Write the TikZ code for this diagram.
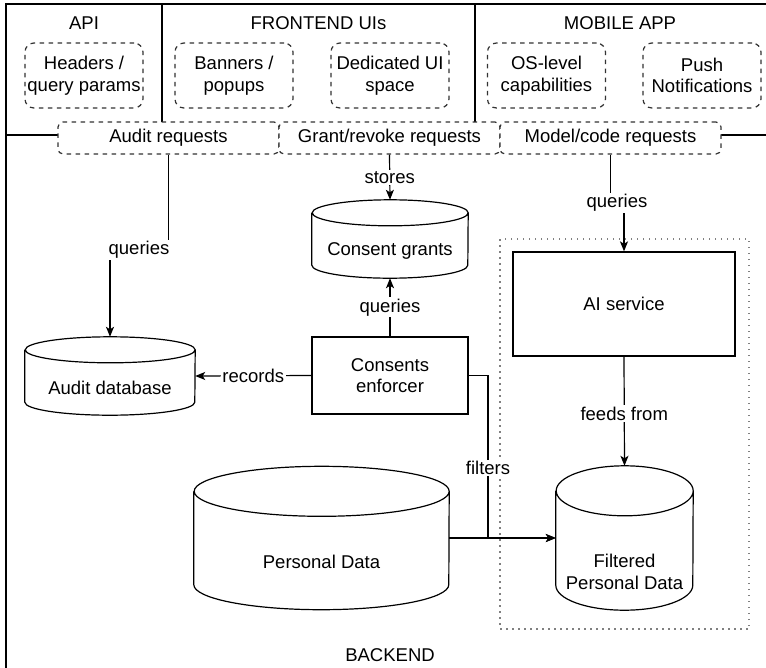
\documentclass[tikz,border=0pt]{standalone}
\usepackage{fontspec}
\setmainfont{Liberation Sans}
\usetikzlibrary{arrows.meta,calc}
\newcommand\cylout[3]{%
  \draw[shp] ([yshift=-#3pt]#1.north west) -- ([yshift=#3pt]#1.south west)
    arc[start angle=180,end angle=0,x radius=#2,y radius=#3]
    -- ([yshift=-#3pt]#1.north east)
    arc[start angle=0,end angle=-180,x radius=#2,y radius=#3]
    arc[start angle=180,end angle=0,x radius=#2,y radius=#3];}
\begin{document}
\begin{tikzpicture}[x=1pt,y=-1pt,
  font=\fontsize{18.5}{21.5}\selectfont,
  lane/.style={draw, line width=1.3pt, inner sep=0pt},
  dbox/.style={draw=black!80, dash pattern=on 4.5pt off 4.5pt, line width=1.2pt,
    rounded corners=9pt, fill=white, minimum width=118pt, minimum height=65pt,
    inner sep=0pt, align=center},
  rbox/.style={dbox, rounded corners=5pt, minimum width=221pt, minimum height=32pt},
  box/.style={draw, line width=1.3pt, fill=white, inner sep=0pt, align=center},
  cylbox/.style={inner sep=0pt},
  shp/.style={draw, line width=1.2pt, fill=white},
  txt/.style={inner sep=0pt, align=center},
  lbl/.style={fill=white, inner sep=1.5pt},
  arr/.style={line width=1.2pt, -{Stealth[length=10pt,width=8pt,inset=2.5pt]}},
  ln/.style={line width=1.2pt}]
\useasboundingbox (0,0) rectangle (766,667);
\clip (0,0) rectangle (766,667);

% lanes
\node[lane, minimum width=768pt, minimum height=565pt] (backend) at (390,417.5) {};
\node[lane, minimum width=156pt, minimum height=131pt] (api) at (84,69.5) {};
\node[lane, minimum width=313pt, minimum height=131pt] (fe) at (318.5,69.5) {};
\node[lane, minimum width=292pt, minimum height=131pt] (mob) at (621,69.5) {};
\node[txt] (apiT) at (84,23) {API};
\node[txt] (feT) at (318.5,23) {FRONTEND UIs};
\node[txt] (mobT) at (620,23) {MOBILE APP};
\node[txt] (beT) at (390,655) {BACKEND};

% dotted group
\node[draw=gray, dash pattern=on 1.5pt off 4.5pt, line width=1.2pt,
  minimum width=249pt, minimum height=390pt, inner sep=0pt] (grp) at (624.5,434) {};

% top dashed boxes
\node[dbox] (hdr) at (84,75.5) {Headers /\\query params};
\node[dbox] (ban) at (234,75.5) {Banners /\\popups};
\node[dbox] (ded) at (390,75.5) {Dedicated UI\\space};
\node[dbox] (os) at (546.5,75.5) {OS-level\\capabilities};
\node[dbox] (push) at (702,75.5) {Push\\Notifications};

% request boxes
\node[rbox] (audreq) at (168.5,138) {Audit requests};
\node[rbox] (grreq) at (389.5,138) {Grant/revoke requests};
\node[rbox] (modreq) at (610.5,138) {Model/code requests};

% cylinders
\node[cylbox, minimum width=156pt, minimum height=78pt] (cg) at (390,239) {};
\cylout{cg}{78}{13}
\node[txt] (cgT) at (390,251) {Consent grants};

\node[cylbox, minimum width=170pt, minimum height=78pt] (auddb) at (110,376) {};
\cylout{auddb}{85}{13}
\node[txt] (auddbT) at (110,388) {Audit database};

\node[cylbox, minimum width=255pt, minimum height=143pt] (pd) at (321.5,538) {};
\cylout{pd}{127.5}{25}
\node[txt] (pdT) at (321.5,562) {Personal Data};

\node[cylbox, minimum width=137pt, minimum height=144pt] (fpd) at (624.5,538) {};
\cylout{fpd}{68.5}{25}
\node[txt] (fpdT) at (624.5,572) {Filtered\\Personal Data};

% rectangles
\node[box, minimum width=156pt, minimum height=77pt] (enf) at (390,375.5) {Consents\\enforcer};
\node[box, minimum width=222pt, minimum height=104pt] (ai) at (624,304) {AI service};

% connectors
\draw[arr] (audreq.south) |- (139,250) node[lbl,pos=1] (q1) {queries} -| (auddb.north);
\draw[arr] (grreq.south) -- node[lbl] (st) {stores} (cg.north);
\draw[arr] (enf.north) -- node[lbl] (q2) {queries} (cg.south);
\draw[arr] (enf.west) -- node[lbl] (rec) {records} (auddb.east);
\draw[arr] (modreq.south) |- (617,203) node[lbl,pos=1] (q3) {queries} -| (ai.north);
\draw[arr] (ai.south) -- node[lbl,pos=0.52] (ff) {feeds from} (fpd.north);
\coordinate (jn) at (488,538);
\draw[arr] (enf.east) -| (jn) -- (fpd.west);
\draw[arr] (pd.east) -- (fpd.west);
\node[lbl] (filt) at (488,468) {filters};
\end{tikzpicture}
\end{document}
